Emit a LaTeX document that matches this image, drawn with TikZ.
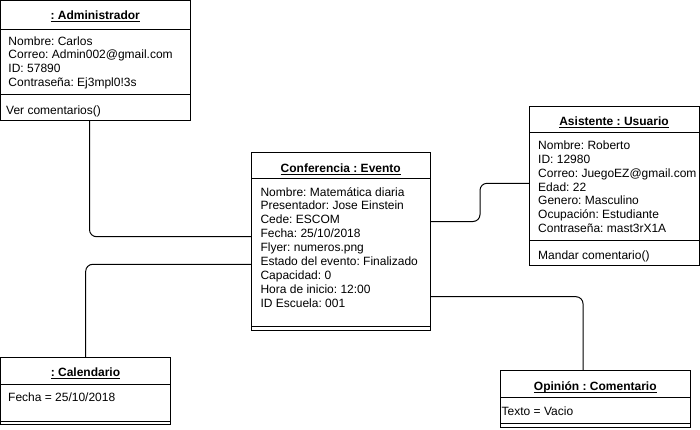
\documentclass[tikz,border=0pt]{standalone}
\usepackage{fontspec}
\setmainfont{Liberation Sans}
\frenchspacing
\newcommand\hdrul[1]{\setbox0\hbox{#1}\rlap{\rule[-2.6pt]{\wd0}{0.8pt}}\box0}
\begin{document}
\frenchspacing
\begin{tikzpicture}[x=1pt,y=-1pt,
  box/.style={draw, line width=1pt, rectangle, anchor=north west, inner sep=0pt, outer sep=0pt},
  sepline/.style={line width=1pt},
  conn/.style={line width=1pt, rounded corners=7pt},
  attr/.style={anchor=base west, inner sep=0pt, font=\fontsize{12pt}{14pt}\selectfont},
  hdr/.style={anchor=base, inner sep=0pt, font=\fontsize{12pt}{14pt}\selectfont\bfseries}]
\useasboundingbox (0,0) rectangle (700,429);

% ---------- boxes ----------
\node[box, minimum width=189.5pt, minimum height=119.5pt] (admin) at (0.5,0.5) {};
\node[box, minimum width=179.5pt, minimum height=177.5pt] (conf) at (251,152.5) {};
\node[box, minimum width=170pt, minimum height=159pt] (asist) at (529,106) {};
\node[box, minimum width=170pt, minimum height=67.5pt] (cal) at (0.5,357) {};
\node[box, minimum width=189.5pt, minimum height=57pt] (opin) at (500.5,370) {};

% ---------- compartments ----------
\draw[sepline] (admin.west |- 0,29.5) -- (admin.east |- 0,29.5);
\draw[sepline] (admin.west |- 0,94.5) -- (admin.east |- 0,94.5);
\draw[sepline] (conf.west |- 0,178.3) -- (conf.east |- 0,178.3);
\draw[sepline] (conf.west |- 0,326.3) -- (conf.east |- 0,326.3);
\draw[sepline] (asist.west |- 0,132) -- (asist.east |- 0,132);
\draw[sepline] (asist.west |- 0,240) -- (asist.east |- 0,240);
\draw[sepline] (cal.west |- 0,384) -- (cal.east |- 0,384);
\draw[sepline] (cal.west |- 0,421) -- (cal.east |- 0,421);
\draw[sepline] (opin.west |- 0,397) -- (opin.east |- 0,397);
\draw[sepline] (opin.west |- 0,423.5) -- (opin.east |- 0,423.5);

% ---------- headers ----------
\node[hdr] (adminh) at (95.25,19.3) {\hdrul{: Administrador}};
\node[hdr] (confh) at (340.75,172) {\hdrul{Conferencia : Evento}};
\node[hdr] (asisth) at (614,125) {\hdrul{Asistente : Usuario}};
\node[hdr] (calh) at (85.5,376) {\hdrul{: Calendario}};
\node[hdr] (opinh) at (595.25,390) {\hdrul{Opinión : Comentario}};

% ---------- attributes ----------
\node[attr] (a1) at (8.3,45) {Nombre: Carlos};
\node[attr] (a2) at (8.3,58.9) {Correo: Admin002@gmail.com};
\node[attr] (a3) at (8.3,72.8) {ID: 57890};
\node[attr] (a4) at (8.3,86.7) {Contraseña: Ej3mpl0!3s};
\node[attr] (a5) at (6,114.3) {Ver comentarios()};

\node[attr] (c1) at (260.3,196) {Nombre: Matemática diaria};
\node[attr] (c2) at (260.3,209.95) {Presentador: Jose Einstein};
\node[attr] (c3) at (260.3,223.9) {Cede: ESCOM};
\node[attr] (c4) at (260.3,237.85) {Fecha: 25/10/2018};
\node[attr] (c5) at (260.3,251.8) {Flyer: numeros.png};
\node[attr] (c6) at (260.3,265.75) {Estado del evento: Finalizado};
\node[attr] (c7) at (260.3,279.7) {Capacidad: 0};
\node[attr] (c8) at (260.3,293.65) {Hora de inicio: 12:00};
\node[attr] (c9) at (260.3,307.6) {ID Escuela: 001};

\node[attr] (s1) at (538,149.3) {Nombre: Roberto};
\node[attr] (s2) at (538,163.2) {ID: 12980};
\node[attr] (s3) at (538,177.1) {Correo: JuegoEZ@gmail.com};
\node[attr] (s4) at (538,191) {Edad: 22};
\node[attr] (s5) at (538,204.9) {Genero: Masculino};
\node[attr] (s6) at (538,218.8) {Ocupación: Estudiante};
\node[attr] (s7) at (538,232.7) {Contraseña: mast3rX1A};
\node[attr] (s8) at (538,259.5) {Mandar comentario()};

\node[attr] (k1) at (8,401) {Fecha = 25/10/2018};
\node[attr] (o1) at (501.5,415) {Texto = Vacio};

% ---------- connectors ----------
\draw[conn] (admin.south -| 89.5,0) |- (conf.west |- 0,236.7);
\draw[conn] (conf.east |- 0,221.5) -- (480,221.5) |- (asist.west |- 0,183.3);
\draw[conn] (conf.west |- 0,264.3) -| (cal.north -| 85.7,0);
\draw[conn] (conf.east |- 0,296.7) -| (opin.north -| 583,0);
\end{tikzpicture}
\end{document}
